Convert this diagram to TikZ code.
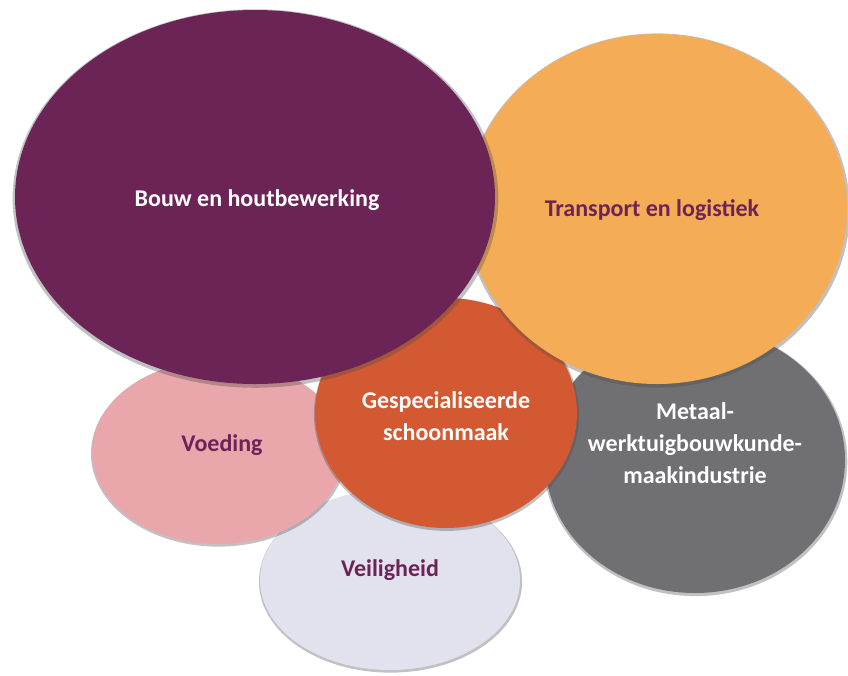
\documentclass[tikz,border=0pt]{standalone}
\usepackage{fontspec}
\setmainfont{Carlito}
\usetikzlibrary{shapes.geometric, shadows}

\definecolor{bouwpaars}{RGB}{108,36,86}
\definecolor{transportoranje}{RGB}{245,172,86}
\definecolor{metaalgrijs}{RGB}{112,112,116}
\definecolor{schoonmaakrood}{RGB}{211,89,50}
\definecolor{voedingroze}{RGB}{233,166,171}
\definecolor{veiliglila}{RGB}{226,226,238}

\begin{document}
\begin{tikzpicture}[x=1pt,y=-1pt]
  % Styles
  \tikzset{
    blob/.style={ellipse,inner sep=0pt,draw=none,
      drop shadow={shadow xshift=0.5pt,shadow yshift=-1.5pt,shadow scale=1.012,opacity=0.35,fill=black!70}},
    tag/.style={font=\bfseries\fontsize{24}{32}\selectfont,align=center}
  }

  \useasboundingbox (0,0) rectangle (848,675);

  % Ellipses, back to front
  \node[blob,fill=veiliglila,minimum width=260,minimum height=180] (veilig) at (390,580) {};
  \node[blob,fill=voedingroze,minimum width=252,minimum height=184] (voeding) at (218,452) {};
  \node[blob,fill=metaalgrijs,minimum width=300,minimum height=266] (metaal) at (695,460) {};
  \node[blob,fill=schoonmaakrood,minimum width=262,minimum height=230] (schoonmaak) at (446,413) {};
  \node[blob,fill=transportoranje,minimum width=380,minimum height=350] (transport) at (657,209) {};
  \node[blob,fill=bouwpaars,minimum width=480,minimum height=374] (bouw) at (255,197) {};

  % Labels
  \node[tag,text=white] (bouwtekst) at (257,200) {Bouw en houtbewerking};
  \node[tag,text=bouwpaars] (transporttekst) at (652,210) {Transport en logistiek};
  \node[tag,text=white] (schoonmaaktekst) at (446,416) {Gespecialiseerde\\schoonmaak};
  \node[tag,text=white] (metaaltekst) at (695,443) {Metaal-\\werktuigbouwkunde-\\maakindustrie};
  \node[tag,text=bouwpaars] (voedingtekst) at (222,445) {Voeding};
  \node[tag,text=bouwpaars] (veiligtekst) at (390,570) {Veiligheid};
\end{tikzpicture}
\end{document}
